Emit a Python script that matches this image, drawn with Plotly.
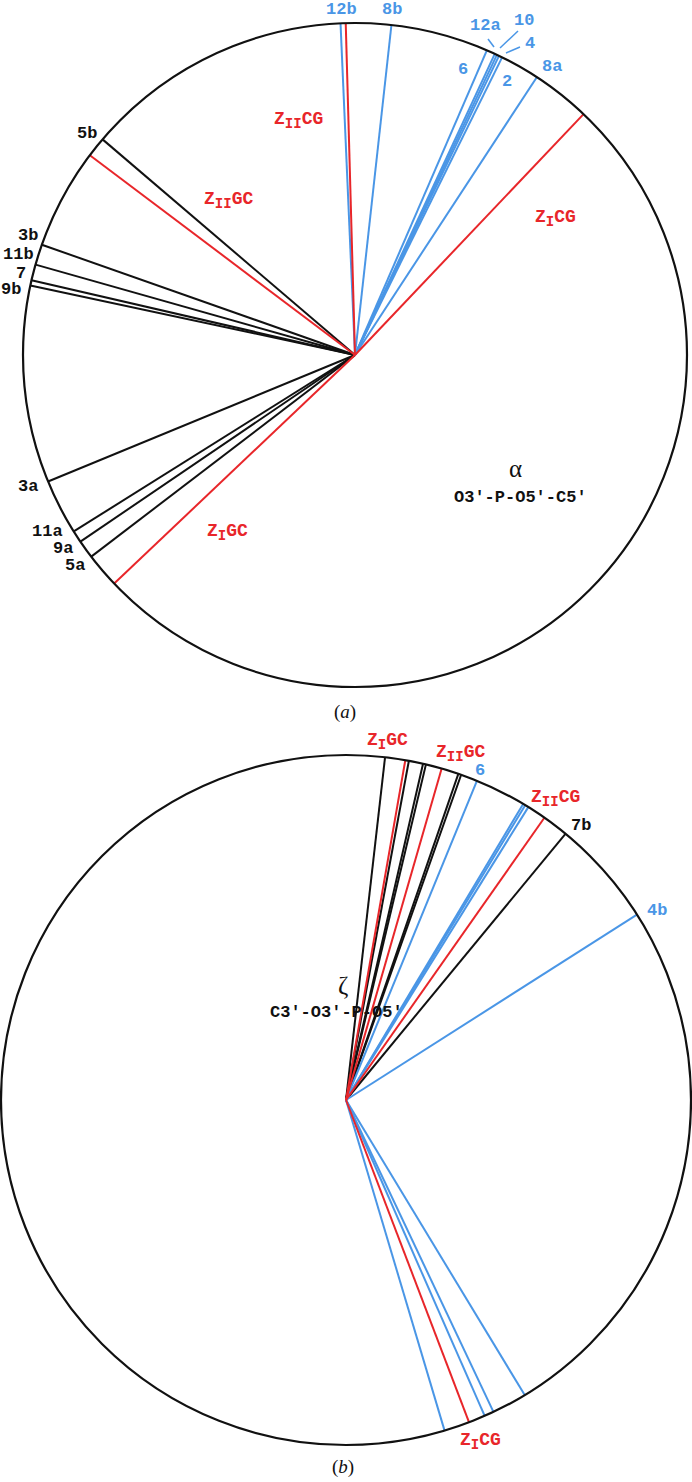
import math
import plotly.graph_objects as go

W, H = 692, 1482

# torsion angles (degrees, 0 at top, clockwise) read from the dials
alpha_black = [232.6, 235.8, 237.9, 247.6, 282.1, 283.0, 285.8, 289.4, 310.5]
alpha_red = [358.4, 43.5, 226.5, 307.0]
alpha_blue = [357.5, 6.3, 23.4, 24.9, 25.3, 25.7, 26.3, 33.2]

zeta_black = [6.5, 10.5, 12.9, 13.4, 19.0, 19.5, 39.5]
zeta_red = [9.9, 16.1, 35.1, 159.1]
zeta_blue = [22.3, 30.9, 31.3, 31.9, 57.5, 148.8, 154.7, 156.3, 163.4]

BLUE = "#4a96e6"
RED = "#e8262a"
BLACK = "#111111"
MONO = "Liberation Mono"
SERIF = "Liberation Serif"

Z1 = "Z<sub><span style='font-size:14px'>I</span></sub>"
Z2 = "Z<sub><span style='font-size:14px'>II</span></sub>"

# label text, pixel position, colour
alpha_labels = [
    ("12b", 341, 9, BLUE), ("8b", 392, 9, BLUE), ("12a", 485, 25, BLUE),
    ("10", 524, 20, BLUE), ("4", 530, 43, BLUE), ("6", 463, 69, BLUE),
    ("2", 507, 81, BLUE), ("8a", 552, 66, BLUE),
    ("5b", 87, 133, BLACK), ("3b", 28, 235, BLACK), ("11b", 18, 254, BLACK),
    ("7", 21, 273, BLACK), ("9b", 11, 289, BLACK), ("3a", 28, 486, BLACK),
    ("11a", 47, 531, BLACK), ("9a", 63, 548, BLACK), ("5a", 75, 565, BLACK),
    (Z2 + "CG", 298, 120, RED), (Z2 + "GC", 228, 200, RED),
    (Z1 + "CG", 555, 218, RED), (Z1 + "GC", 227, 532, RED),
]
zeta_labels = [
    (Z1 + "GC", 387, 741, RED), (Z2 + "GC", 460, 753, RED),
    ("6", 480, 770, BLUE), (Z2 + "CG", 555, 798, RED),
    ("7b", 581, 825, BLACK), ("4b", 657, 910, BLUE),
    (Z1 + "CG", 480, 1441, RED),
]
leaders = [((488, 39), (494, 47)), ((518, 31), (500, 48)), ((520, 47), (506, 53))]

# dial geometry in pixels: centre x, centre y, radius
dials = [(355, 355, 332, alpha_black, alpha_red, alpha_blue),
         (346, 1100, 345, zeta_black, zeta_red, zeta_blue)]

fig = go.Figure()
shapes = []

for cx, cy, rad, blk, red, blu in dials:
    shapes.append(dict(type="circle", xref="x", yref="y",
                       x0=cx - rad, x1=cx + rad, y0=cy - rad, y1=cy + rad,
                       line=dict(color=BLACK, width=2.2)))
    for angles, col in [(blk, BLACK), (blu, BLUE), (red, RED)]:
        xs, ys = [], []
        for a in angles:
            t = math.radians(a)
            xs += [cx, cx + rad * math.sin(t), None]
            ys += [cy, cy - rad * math.cos(t), None]
        fig.add_trace(go.Scatter(x=xs, y=ys, mode="lines",
                                 line=dict(color=col, width=2),
                                 showlegend=False, hoverinfo="skip"))

for (x0, y0), (x1, y1) in leaders:
    shapes.append(dict(type="line", xref="x", yref="y", x0=x0, y0=y0, x1=x1, y1=y1,
                       line=dict(color=BLUE, width=1.5)))

anns = []
for txt, x, y, col in alpha_labels + zeta_labels:
    size = 18 if txt.startswith("Z") else 17
    anns.append(dict(text="<b>" + txt + "</b>", x=x, y=y,
                     font=dict(family=MONO, size=size, color=col)))

anns += [
    dict(text="α", x=515, y=468, font=dict(family=SERIF, size=25, color=BLACK)),
    dict(text="<b>O3′-P-O5′-C5′</b>", x=520, y=497,
         font=dict(family=MONO, size=17, color=BLACK)),
    dict(text="ζ", x=343, y=985, font=dict(family=SERIF, size=25, color=BLACK)),
    dict(text="<b>C3′-O3′-P-O5′</b>", x=336, y=1012,
         font=dict(family=MONO, size=17, color=BLACK)),
    dict(text="(<i>a</i>)", x=345, y=712, font=dict(family=SERIF, size=19, color=BLACK)),
    dict(text="(<i>b</i>)", x=343, y=1467, font=dict(family=SERIF, size=19, color=BLACK)),
]
for a in anns:
    a.update(xref="x", yref="y", showarrow=False, xanchor="center", yanchor="middle")

fig.update_layout(width=W, height=H, margin=dict(l=0, r=0, t=0, b=0),
                  paper_bgcolor="white", plot_bgcolor="white",
                  xaxis=dict(range=[0, W], visible=False, fixedrange=True),
                  yaxis=dict(range=[H, 0], visible=False, fixedrange=True),
                  annotations=anns, shapes=shapes)

# the page body has a default 8px margin; drop it so pixels line up
fig.write_html("out.html", config={"displayModeBar": False},
               post_script="document.body.style.margin='0px';")
